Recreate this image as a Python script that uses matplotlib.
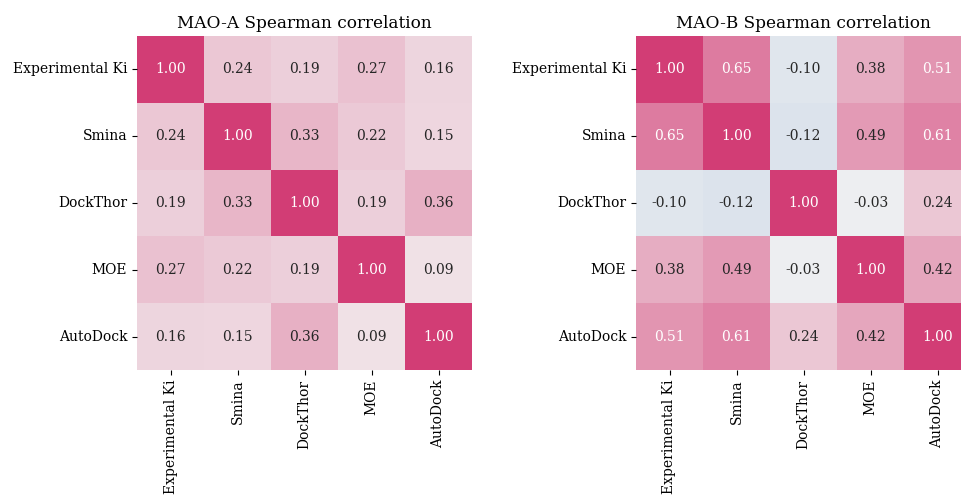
import matplotlib
matplotlib.use("Agg")
import matplotlib.pyplot as plt
import numpy as np
import seaborn as sns

labels = ["Experimental Ki", "Smina", "DockThor", "MOE", "AutoDock"]

mao_a = [
    [1.00, 0.24, 0.19, 0.27, 0.16],
    [0.24, 1.00, 0.33, 0.22, 0.15],
    [0.19, 0.33, 1.00, 0.19, 0.36],
    [0.27, 0.22, 0.19, 1.00, 0.09],
    [0.16, 0.15, 0.36, 0.09, 1.00],
]
mao_b = [
    [1.00, 0.65, -0.10, 0.38, 0.51],
    [0.65, 1.00, -0.12, 0.49, 0.61],
    [-0.10, -0.12, 1.00, -0.03, 0.24],
    [0.38, 0.49, -0.03, 1.00, 0.42],
    [0.51, 0.61, 0.24, 0.42, 1.00],
]
titles = ["MAO-A Spearman correlation", "MAO-B Spearman correlation"]

plt.rcParams["font.family"] = ["DejaVu Serif"]
cmap = sns.diverging_palette(250, 355, as_cmap=True)

fig = plt.figure(figsize=(9.61, 4.96), dpi=100)
lefts = [137 / 961, 636 / 961]
for left, data, title in zip(lefts, [mao_a, mao_b], titles):
    ax = fig.add_axes([left, 0.254, 335 / 961, 0.6734])
    sns.heatmap(np.array(data), ax=ax, cmap=cmap, vmin=-1, vmax=1, center=0,
                annot=True, fmt=".2f", cbar=False,
                xticklabels=labels, yticklabels=labels,
                annot_kws={"fontsize": 10})
    ax.set_title(title, fontsize=12.2)
    ax.tick_params(labelsize=10)
    plt.setp(ax.get_xticklabels(), rotation=90)
    plt.setp(ax.get_yticklabels(), rotation=0)

fig.savefig("out.png", dpi=100)
